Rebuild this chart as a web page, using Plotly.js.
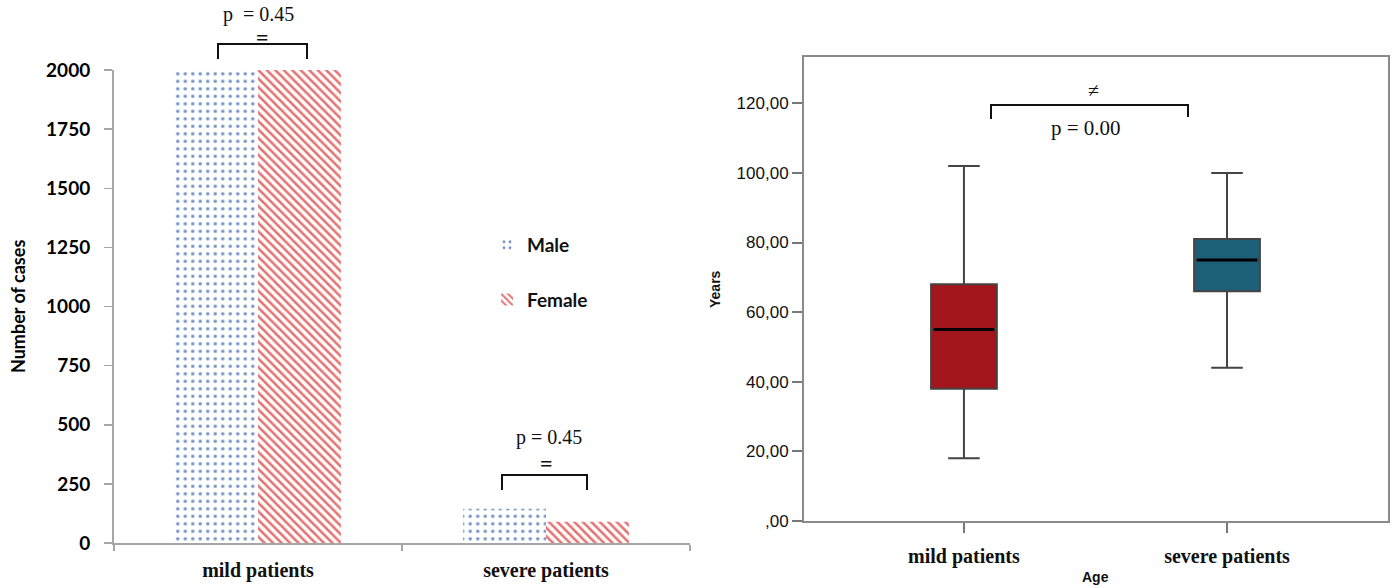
<!DOCTYPE html>
<html>
<head>
<meta charset="utf-8">
<script src="https://cdn.plot.ly/plotly-3.0.1.min.js"></script>
<style>html,body{margin:0;padding:0;background:#fff;}#chart{width:1394px;height:588px;}</style>
</head>
<body>
<div id="chart"></div>
<script>
// ---- Data ----
const barCategories = ['mild patients', 'severe patients'];
const maleCases = [2000, 145];
const femaleCases = [2000, 90];

const boxCategories = ['mild patients', 'severe patients'];
const ageLowerFence = [18, 44];
const ageQ1 = [38, 66];
const ageMedian = [55, 75];
const ageQ3 = [68, 81];
const ageUpperFence = [102, 100];

const leftYTicks = [0, 250, 500, 750, 1000, 1250, 1500, 1750, 2000];
const rightYTicks = [0, 20, 40, 60, 80, 100, 120];
const rightYTickText = [',00', '20,00', '40,00', '60,00', '80,00', '100,00', '120,00'];

// ---- helpers (pixel -> paper) ----
const W = 1394, H = 588;
const px = x => x / W;
const py = y => 1 - y / H;

const boxFill = ['#a3161b', '#1b5f78'];
const boxWidth = 0.25;

const traces = [
  {
    type: 'bar', name: 'Male', x: barCategories, y: maleCases,
    xaxis: 'x', yaxis: 'y', legendgroup: 'm',
    marker: {color: '#ffffff', line: {width: 0},
      pattern: {shape: '.', fgcolor: '#7393c8', bgcolor: '#ffffff', size: 7.5, solidity: 0.17}}
  },
  {
    type: 'bar', name: 'Female', x: barCategories, y: femaleCases,
    xaxis: 'x', yaxis: 'y', legendgroup: 'f',
    marker: {color: '#ffffff', line: {width: 0},
      pattern: {shape: '\\', fgcolor: '#e27474', bgcolor: '#ffffff', size: 6, solidity: 0.42}}
  }
];

boxCategories.forEach((c, i) => {
  traces.push({
    type: 'box', x: [c], xaxis: 'x2', yaxis: 'y2', showlegend: false,
    q1: [ageQ1[i]], median: [ageMedian[i]], q3: [ageQ3[i]],
    lowerfence: [ageLowerFence[i]], upperfence: [ageUpperFence[i]],
    fillcolor: boxFill[i], width: boxWidth, whiskerwidth: 0.48,
    line: {color: '#444444', width: 2}, hoverinfo: 'skip'
  });
});

const serif = 'Liberation Serif';
const sans = 'Liberation Sans';
const lato = 'Lato';

const shapes = [];
function bracket(x0, x1, yTop, yBot0, yBot1) {
  shapes.push({type: 'path', xref: 'paper', yref: 'paper',
    path: `M ${px(x0)} ${py(yBot0)} L ${px(x0)} ${py(yTop)} L ${px(x1)} ${py(yTop)} L ${px(x1)} ${py(yBot1)}`,
    line: {color: '#111', width: 2}});
}
bracket(218, 307, 44, 59, 59);
bracket(502, 587, 475, 490, 490);
bracket(991, 1188, 105, 119, 117);

// median lines drawn thicker, derived from data
ageMedian.forEach((m, i) => {
  shapes.push({type: 'line', xref: 'x2', yref: 'y2',
    x0: i - boxWidth / 2 + 0.01, x1: i + boxWidth / 2 - 0.01, y0: m, y1: m,
    line: {color: '#000', width: 3}});
});

function ann(text, x, y, font, extra) {
  return Object.assign({text, xref: 'paper', yref: 'paper', x: px(x), y: py(y),
    xanchor: 'center', yanchor: 'middle', showarrow: false, font}, extra || {});
}
const annotations = [
  ann('p  = 0.45', 258, 14, {family: serif, size: 20, color: '#111'}),
  ann('=', 262, 38, {family: serif, size: 22, color: '#111', weight: 'bold'}),
  ann('p = 0.45', 549, 437, {family: serif, size: 20, color: '#111'}),
  ann('=', 546, 463, {family: serif, size: 22, color: '#111', weight: 'bold'}),
  ann('≠', 1093, 90, {family: serif, size: 20, color: '#111'}),
  ann('p = 0.00', 1086, 128, {family: serif, size: 21, color: '#111'}),
  ann('Number of cases', 18, 307, {family: lato, size: 18, color: '#000', weight: 'bold'}, {textangle: -90}),
  ann('Years', 715, 289, {family: sans, size: 14, color: '#111', weight: 'bold'}, {textangle: -90}),
  ann('Age', 1095, 577, {family: sans, size: 14, color: '#111', weight: 'bold'})
];

const layout = {
  width: W, height: H,
  margin: {l: 0, r: 0, t: 0, b: 0},
  paper_bgcolor: '#ffffff', plot_bgcolor: '#ffffff',
  barmode: 'group', bargap: 0.424, bargroupgap: 0,
  showlegend: true,
  legend: {x: px(487), y: py(226), xanchor: 'left', yanchor: 'top',
    bgcolor: 'rgba(0,0,0,0)', font: {family: lato, size: 19, color: '#111', weight: 'bold'},
    tracegroupgap: 27, traceorder: 'grouped'},
  xaxis: {
    domain: [px(114), px(690)], anchor: 'y', type: 'category',
    range: [-0.5, 1.5], tickson: 'boundaries', ticks: 'outside', ticklen: 6,
    tickcolor: '#a6a6a6', tickwidth: 1.5, showline: true, linecolor: '#a6a6a6', linewidth: 2,
    showgrid: false, zeroline: false, ticklabelstandoff: 8,
    tickfont: {family: serif, size: 20, color: '#111', weight: 'bold'}
  },
  yaxis: {
    domain: [py(543), py(70)], anchor: 'x', range: [0, 2000],
    tickvals: leftYTicks, ticks: 'outside', ticklen: 8, tickcolor: '#a6a6a6', tickwidth: 1.5,
    showline: true, linecolor: '#a6a6a6', linewidth: 2, showgrid: false, zeroline: false,
    ticklabelstandoff: 10,
    tickfont: {family: lato, size: 19, color: '#000', weight: 'bold'}
  },
  xaxis2: {
    domain: [px(804), px(1388)], anchor: 'y2', type: 'category',
    range: [-0.608, 1.612], ticks: 'outside', ticklen: 10, tickcolor: '#777', tickwidth: 2,
    showline: true, mirror: true, linecolor: '#8a8a8a', linewidth: 2,
    showgrid: false, zeroline: false, ticklabelstandoff: 6,
    tickfont: {family: serif, size: 20, color: '#111', weight: 'bold'}
  },
  yaxis2: {
    domain: [py(521), py(57)], anchor: 'x2', range: [0, 133.3],
    tickvals: rightYTicks, ticktext: rightYTickText, ticks: 'outside', ticklen: 10,
    tickcolor: '#777', tickwidth: 2, showline: true, mirror: true, linecolor: '#8a8a8a', linewidth: 2,
    showgrid: false, zeroline: false,
    tickfont: {family: sans, size: 17, color: '#111'}
  },
  shapes, annotations
};

Plotly.newPlot('chart', traces, layout, {displayModeBar: false, staticPlot: true});
</script>
</body>
</html>
